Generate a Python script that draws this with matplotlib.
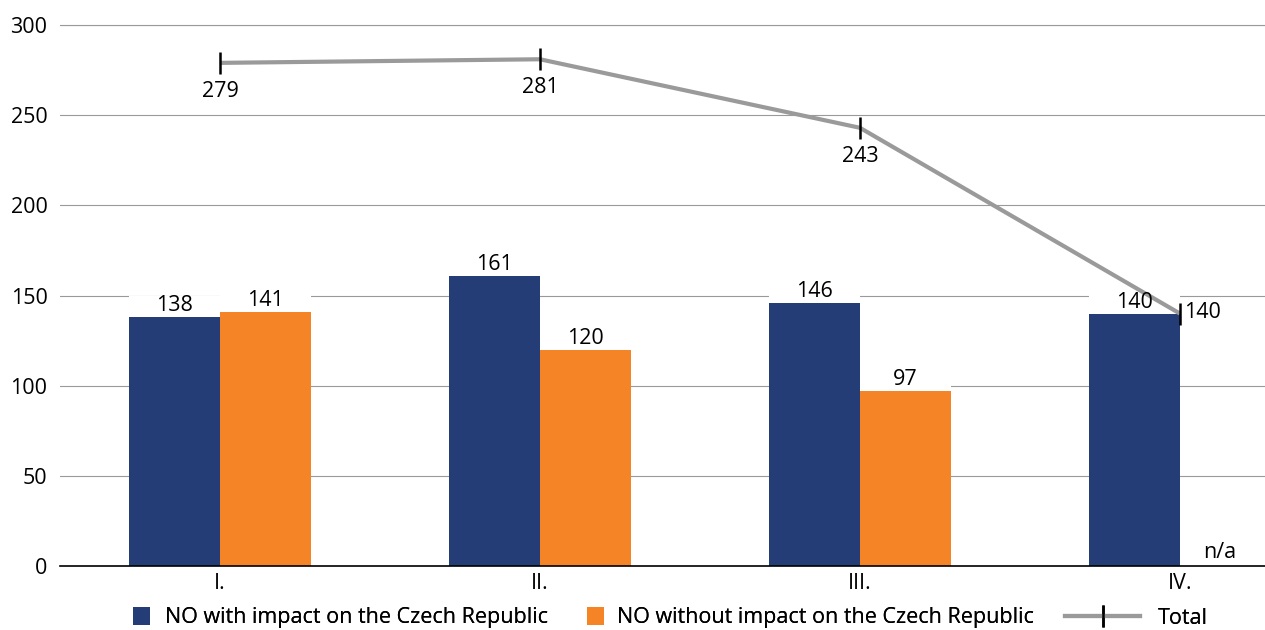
import matplotlib
matplotlib.use("Agg")
import matplotlib.pyplot as plt
import numpy as np
from matplotlib.patches import Rectangle, Patch
from matplotlib.lines import Line2D
from matplotlib.legend_handler import HandlerPatch

plt.rcParams['font.family'] = ['Open Sans', 'DejaVu Sans']

categories = ["I.", "II.", "III.", "IV."]
with_impact = [138, 161, 146, 140]
without_impact = [141, 120, 97, None]
total = [279, 281, 243, 140]
yticks = [0, 50, 100, 150, 200, 250, 300]
series_names = ["NO with impact on the Czech Republic",
                "NO without impact on the Czech Republic", "Total"]

BLUE = "#253d77"
ORANGE = "#f58426"
GRAY = "#9a9a9a"

W, H = 1265, 630
fig = plt.figure(figsize=(W/100, H/100), dpi=100)
ax = fig.add_axes([60/W, (H-566)/H, 1 - 60/W, (566-25)/H])

x = np.arange(len(categories))
w = 0.284
FS = 15.5

ax.set_axisbelow(True)
ax.yaxis.grid(True, color=GRAY, lw=0.8, zorder=0)
ax.set_ylim(0, 300)
ax.set_xlim(-0.5, 3.266)
ax.set_yticks(yticks)
ax.set_xticks(x)
ax.set_xticklabels(categories)
ax.tick_params(axis='both', length=0, labelsize=FS, colors='black')
ax.tick_params(axis='y', pad=9)
ax.tick_params(axis='x', pad=5)
for s in ['left', 'right']:
    ax.spines[s].set_visible(False)
ax.spines['top'].set_color(GRAY)
ax.spines['top'].set_linewidth(0.8)
ax.spines['bottom'].set_color('black')
ax.spines['bottom'].set_linewidth(1.2)
ax.spines['bottom'].set_zorder(5)

box_h = 12
for i, v in enumerate(with_impact):
    xc = x[i] - w/2
    ax.bar(xc, v, width=w, color=BLUE, zorder=2)
    ax.add_patch(Rectangle((xc - w/2, v), w, box_h, facecolor='white', edgecolor='none', zorder=1.5))
    ax.annotate(str(v), (xc, v), xytext=(0, 0.5), textcoords='offset points',
                ha='center', va='bottom', fontsize=FS, zorder=6)
for i, v in enumerate(without_impact):
    xc = x[i] + w/2
    if v is None:
        ax.annotate("n/a", (xc, 0), xytext=(-4, 2), textcoords='offset points',
                    ha='center', va='bottom', fontsize=FS, zorder=6)
        continue
    ax.bar(xc, v, width=w, color=ORANGE, zorder=2)
    ax.add_patch(Rectangle((xc - w/2, v), w, box_h, facecolor='white', edgecolor='none', zorder=1.5))
    ax.annotate(str(v), (xc, v), xytext=(0, 0.5), textcoords='offset points',
                ha='center', va='bottom', fontsize=FS, zorder=6)

ax.plot(x, total, color=GRAY, lw=3, zorder=3, solid_capstyle='butt')
ax.plot(x, total, linestyle='none', marker='|', markersize=16, markeredgewidth=1.8,
        color='black', zorder=4)
for i, v in enumerate(total):
    if i == len(total) - 1:
        ax.annotate(str(v), (x[i], v), xytext=(3, 1), textcoords='offset points',
                    ha='left', va='center', fontsize=FS, zorder=6)
    else:
        ax.annotate(str(v), (x[i], v), xytext=(0, -13), textcoords='offset points',
                    ha='center', va='top', fontsize=FS, zorder=6)

def square(legend, orig_handle, xdescent, ydescent, width, height, fontsize):
    s = 12.5
    return Rectangle((-xdescent + width - s, -ydescent + (height - s)/2), s, s)

handles = [Patch(facecolor=BLUE), Patch(facecolor=ORANGE),
           Line2D([], [], color=GRAY, lw=3, marker='|', markersize=16,
                  markeredgewidth=1.8, markeredgecolor='black')]
fs_px = FS * 100 / 72
leg_specs = [(133, 17, 15), (587, 17, 13), (1065, 75, 18)]  # handle start px, handle width px, gap px
y_leg = (H - 618) / H
for hnd, name, (x0, hw, gap) in zip(handles, series_names, leg_specs):
    leg = fig.legend([hnd], [name], loc='center left', bbox_to_anchor=(x0 / W, y_leg),
                     frameon=False, fontsize=FS, handlelength=hw / fs_px,
                     handletextpad=gap / fs_px, borderpad=0, borderaxespad=0,
                     handler_map={Patch: HandlerPatch(patch_func=square)})
    fig.add_artist(leg)

fig.savefig("out.png", dpi=100)
